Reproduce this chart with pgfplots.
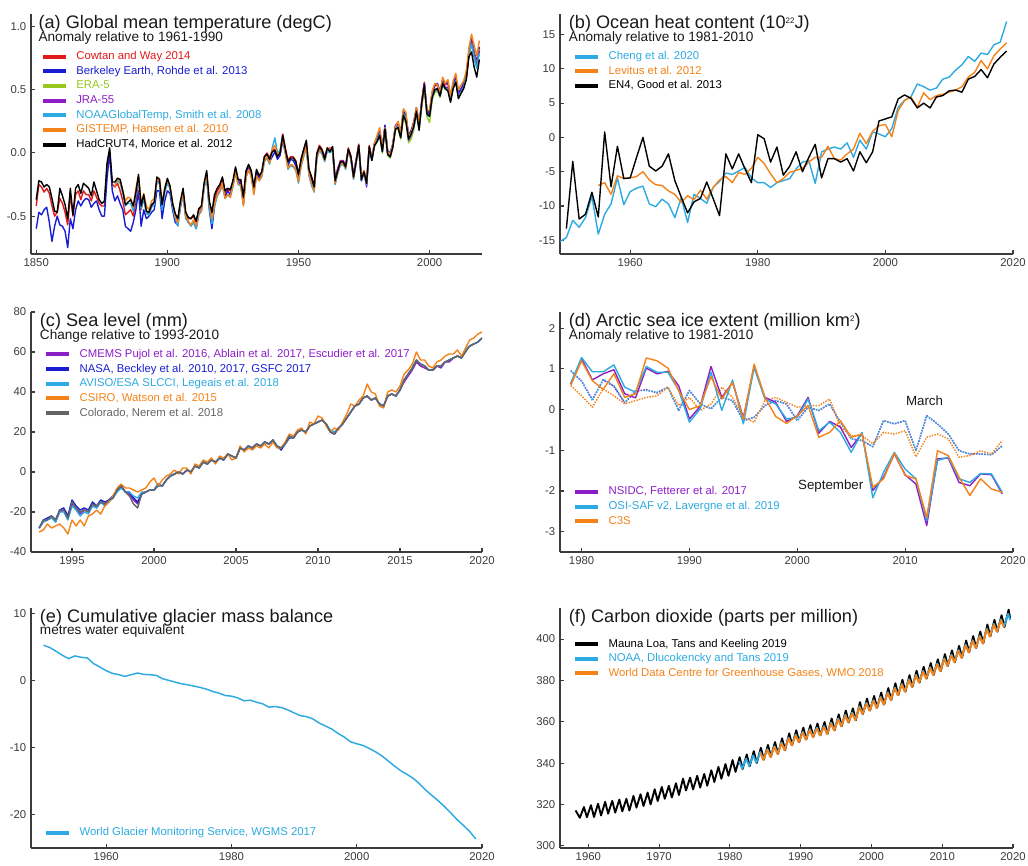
\documentclass[border=0pt]{standalone}
\usepackage{pgfplots}
\usepackage{pgfplotstable}
\pgfplotsset{compat=1.18}
\usepackage{fontspec}
\setmainfont{Liberation Sans}

\definecolor{cwred}{RGB}{225,25,25}
\definecolor{bkblue}{RGB}{25,30,210}
\definecolor{eragreen}{RGB}{150,200,30}
\definecolor{jrapurple}{RGB}{140,30,200}
\definecolor{cyanb}{RGB}{45,170,225}
\definecolor{orng}{RGB}{245,130,25}
\definecolor{greyc}{RGB}{100,100,100}
\definecolor{axgrey}{RGB}{60,60,60}

\newcommand{\tinysup}[1]{{\fontsize{6}{6}\selectfont\raisebox{1.15ex}{#1}}}

% global temperature, anomaly vs 1961-1990
\pgfplotstableread{
year had cw be gis noaa jra era
1850 -0.37 -0.42 -0.60 nan nan nan nan
1851 -0.22 -0.25 -0.47 nan nan nan nan
1852 -0.23 -0.27 -0.49 nan nan nan nan
1853 -0.27 -0.31 -0.45 nan nan nan nan
1854 -0.25 -0.28 -0.43 nan nan nan nan
1855 -0.27 -0.32 -0.55 nan nan nan nan
1856 -0.36 -0.42 -0.70 nan nan nan nan
1857 -0.46 -0.50 -0.58 nan nan nan nan
1858 -0.47 -0.47 -0.50 nan nan nan nan
1859 -0.28 -0.36 -0.57 nan nan nan nan
1860 -0.34 -0.40 -0.58 nan nan nan nan
1861 -0.41 -0.47 -0.62 nan nan nan nan
1862 -0.52 -0.57 -0.75 nan nan nan nan
1863 -0.28 -0.33 -0.52 nan nan nan nan
1864 -0.49 -0.50 -0.60 nan nan nan nan
1865 -0.28 -0.33 -0.45 nan nan nan nan
1866 -0.25 -0.30 -0.38 nan nan nan nan
1867 -0.32 -0.37 -0.42 nan nan nan nan
1868 -0.24 -0.30 -0.38 nan nan nan nan
1869 -0.26 -0.33 -0.36 nan nan nan nan
1870 -0.28 -0.33 -0.37 nan nan nan nan
1871 -0.34 -0.38 -0.43 nan nan nan nan
1872 -0.23 -0.30 -0.40 nan nan nan nan
1873 -0.30 -0.35 -0.38 nan nan nan nan
1874 -0.37 -0.40 -0.45 nan nan nan nan
1875 -0.40 -0.42 -0.50 nan nan nan nan
1876 -0.38 -0.42 -0.50 nan nan nan nan
1877 -0.08 -0.10 -0.20 nan nan nan nan
1878 0.04 0.02 0.00 nan nan nan nan
1879 -0.23 -0.25 -0.30 nan nan nan nan
1880 -0.23 -0.27 -0.38 -0.27 -0.25 nan nan
1881 -0.20 -0.24 -0.34 -0.20 -0.22 nan nan
1882 -0.21 -0.30 -0.40 -0.22 -0.24 nan nan
1883 -0.30 -0.38 -0.45 -0.30 -0.32 nan nan
1884 -0.41 -0.49 -0.58 -0.38 -0.42 nan nan
1885 -0.39 -0.47 -0.60 -0.35 -0.40 nan nan
1886 -0.37 -0.45 -0.62 -0.36 -0.40 nan nan
1887 -0.42 -0.50 -0.55 -0.43 -0.46 nan nan
1888 -0.31 -0.38 -0.45 -0.28 -0.33 nan nan
1889 -0.17 -0.20 -0.30 -0.18 -0.20 nan nan
1890 -0.42 -0.45 -0.58 -0.40 -0.44 nan nan
1891 -0.33 -0.36 -0.45 -0.32 -0.36 nan nan
1892 -0.46 -0.47 -0.52 -0.42 -0.48 nan nan
1893 -0.47 -0.48 -0.50 -0.45 -0.49 nan nan
1894 -0.41 -0.42 -0.47 -0.38 -0.43 nan nan
1895 -0.39 -0.40 -0.45 -0.36 -0.41 nan nan
1896 -0.19 -0.22 -0.30 -0.22 -0.23 nan nan
1897 -0.21 -0.23 -0.30 -0.20 -0.24 nan nan
1898 -0.41 -0.42 -0.52 -0.40 -0.45 nan nan
1899 -0.29 -0.30 -0.38 -0.27 -0.31 nan nan
1900 -0.20 -0.22 -0.30 -0.21 -0.24 nan nan
1901 -0.26 -0.27 -0.32 -0.27 -0.28 nan nan
1902 -0.40 -0.40 -0.45 -0.39 -0.43 nan nan
1903 -0.48 -0.49 -0.55 -0.50 -0.52 nan nan
1904 -0.52 -0.53 -0.57 -0.55 -0.58 nan nan
1905 -0.38 -0.39 -0.43 -0.40 -0.42 nan nan
1906 -0.28 -0.30 -0.33 -0.32 -0.33 nan nan
1907 -0.47 -0.47 -0.50 -0.50 -0.52 nan nan
1908 -0.51 -0.52 -0.55 -0.54 -0.55 nan nan
1909 -0.52 -0.52 -0.57 -0.57 -0.58 nan nan
1910 -0.49 -0.50 -0.55 -0.53 -0.55 nan nan
1911 -0.54 -0.55 -0.60 -0.58 -0.60 nan nan
1912 -0.44 -0.45 -0.48 -0.47 -0.49 nan nan
1913 -0.42 -0.43 -0.45 -0.46 -0.46 nan nan
1914 -0.24 -0.25 -0.27 -0.26 -0.28 nan nan
1915 -0.14 -0.16 -0.18 -0.17 -0.19 nan nan
1916 -0.38 -0.40 -0.45 -0.40 -0.44 nan nan
1917 -0.47 -0.50 -0.60 -0.52 -0.56 nan nan
1918 -0.33 -0.37 -0.42 -0.40 -0.42 nan nan
1919 -0.28 -0.30 -0.33 -0.33 -0.34 nan nan
1920 -0.25 -0.27 -0.30 -0.30 -0.31 nan nan
1921 -0.19 -0.20 -0.25 -0.24 -0.25 nan nan
1922 -0.30 -0.32 -0.35 -0.36 -0.36 nan nan
1923 -0.28 -0.29 -0.30 -0.33 -0.33 nan nan
1924 -0.29 -0.30 -0.33 -0.35 -0.35 nan nan
1925 -0.22 -0.23 -0.25 -0.26 -0.27 nan nan
1926 -0.11 -0.12 -0.14 -0.15 -0.16 nan nan
1927 -0.21 -0.22 -0.22 -0.25 -0.25 nan nan
1928 -0.21 -0.22 -0.25 -0.25 -0.26 nan nan
1929 -0.35 -0.36 -0.40 -0.42 -0.41 nan nan
1930 -0.14 -0.15 -0.17 -0.19 -0.19 nan nan
1931 -0.09 -0.10 -0.12 -0.13 -0.14 nan nan
1932 -0.14 -0.15 -0.17 -0.19 -0.18 nan nan
1933 -0.27 -0.28 -0.30 -0.33 -0.32 nan nan
1934 -0.13 -0.14 -0.16 -0.18 -0.18 nan nan
1935 -0.18 -0.19 -0.20 -0.22 -0.22 nan nan
1936 -0.15 -0.15 -0.18 -0.18 -0.19 nan nan
1937 -0.03 -0.03 -0.05 -0.06 -0.07 nan nan
1938 -0.01 0.00 -0.04 -0.03 -0.04 nan nan
1939 -0.05 -0.04 -0.07 -0.08 -0.09 nan nan
1940 0.01 0.02 -0.03 0.03 0.04 nan nan
1941 0.02 0.03 0.01 0.06 0.12 nan nan
1942 -0.03 -0.02 -0.05 -0.01 0.00 nan nan
1943 0.00 0.01 -0.02 0.00 0.02 nan nan
1944 0.14 0.15 0.10 0.12 0.13 nan nan
1945 0.03 0.04 0.00 0.00 0.01 nan nan
1946 -0.07 -0.06 -0.10 -0.12 -0.13 nan nan
1947 -0.04 -0.03 -0.05 -0.09 -0.10 nan nan
1948 -0.04 -0.03 -0.06 -0.10 -0.11 nan nan
1949 -0.07 -0.06 -0.10 -0.13 -0.14 nan nan
1950 -0.17 -0.17 -0.20 -0.23 -0.24 nan nan
1951 -0.05 -0.05 -0.08 -0.10 -0.11 nan nan
1952 0.03 0.02 -0.01 -0.02 -0.03 nan nan
1953 0.10 0.09 0.05 0.05 0.04 nan nan
1954 -0.13 -0.13 -0.15 -0.17 -0.18 nan nan
1955 -0.19 -0.19 -0.22 -0.24 -0.26 nan nan
1956 -0.27 -0.26 -0.28 -0.30 -0.31 nan nan
1957 -0.01 0.00 -0.02 -0.04 -0.05 nan nan
1958 0.05 0.06 0.03 0.04 0.02 0.03 nan
1959 0.02 0.03 0.00 0.00 -0.01 0.01 nan
1960 -0.05 -0.04 -0.06 -0.06 -0.07 -0.02 nan
1961 0.04 0.04 0.02 0.04 0.02 0.02 nan
1962 0.01 0.02 0.01 0.03 0.00 0.04 nan
1963 0.05 0.05 0.03 0.04 0.02 0.02 nan
1964 -0.22 -0.21 -0.24 -0.24 -0.25 -0.20 nan
1965 -0.14 -0.13 -0.15 -0.15 -0.16 -0.12 nan
1966 -0.07 -0.06 -0.08 -0.09 -0.10 -0.07 nan
1967 -0.07 -0.06 -0.07 -0.08 -0.09 -0.06 nan
1968 -0.11 -0.10 -0.12 -0.12 -0.13 -0.10 nan
1969 0.03 0.04 0.02 0.02 0.01 0.02 nan
1970 -0.03 -0.02 -0.04 -0.04 -0.05 -0.04 nan
1971 -0.19 -0.18 -0.20 -0.20 -0.21 -0.17 nan
1972 -0.07 -0.06 -0.07 -0.06 -0.08 -0.05 nan
1973 0.06 0.07 0.05 0.06 0.04 0.06 nan
1974 -0.21 -0.20 -0.22 -0.21 -0.22 -0.22 nan
1975 -0.15 -0.14 -0.15 -0.14 -0.16 -0.15 nan
1976 -0.24 -0.23 -0.25 -0.24 -0.25 -0.27 nan
1977 0.05 0.06 0.04 0.05 0.04 0.05 nan
1978 -0.06 -0.05 -0.05 -0.04 -0.06 -0.04 nan
1979 0.06 0.07 0.08 0.08 0.06 0.06 0.05
1980 0.09 0.11 0.12 0.14 0.10 0.10 0.09
1981 0.14 0.16 0.18 0.20 0.15 0.14 0.13
1982 0.01 0.03 0.04 0.03 0.01 0.02 0.00
1983 0.19 0.21 0.22 0.20 0.19 0.20 0.18
1984 -0.01 0.01 0.02 0.01 0.00 0.00 -0.02
1985 -0.03 -0.01 0.00 -0.01 -0.02 -0.03 -0.04
1986 0.05 0.07 0.07 0.07 0.06 0.05 0.04
1987 0.19 0.21 0.22 0.21 0.20 0.21 0.18
1988 0.20 0.23 0.24 0.25 0.21 0.22 0.19
1989 0.12 0.14 0.16 0.16 0.13 0.13 0.11
1990 0.30 0.32 0.33 0.35 0.31 0.29 0.27
1991 0.25 0.28 0.30 0.32 0.27 0.26 0.24
1992 0.11 0.13 0.14 0.13 0.11 0.10 0.08
1993 0.15 0.17 0.18 0.16 0.14 0.14 0.11
1994 0.21 0.23 0.25 0.24 0.21 0.21 0.19
1995 0.33 0.35 0.36 0.36 0.33 0.33 0.31
1996 0.18 0.21 0.23 0.24 0.19 0.20 0.18
1997 0.39 0.41 0.40 0.38 0.39 0.38 0.36
1998 0.54 0.56 0.55 0.52 0.53 0.55 0.53
1999 0.31 0.33 0.32 0.34 0.30 0.33 0.29
2000 0.29 0.31 0.33 0.34 0.29 0.30 0.24
2001 0.44 0.47 0.48 0.49 0.44 0.45 0.42
2002 0.50 0.53 0.54 0.55 0.49 0.50 0.48
2003 0.51 0.54 0.55 0.54 0.50 0.51 0.49
2004 0.45 0.48 0.49 0.48 0.45 0.46 0.44
2005 0.55 0.57 0.58 0.60 0.54 0.55 0.54
2006 0.51 0.54 0.55 0.55 0.51 0.52 0.50
2007 0.49 0.55 0.56 0.58 0.50 0.52 0.51
2008 0.40 0.43 0.45 0.45 0.41 0.42 0.41
2009 0.51 0.54 0.55 0.57 0.52 0.53 0.51
2010 0.56 0.59 0.60 0.63 0.57 0.58 0.57
2011 0.43 0.46 0.47 0.50 0.44 0.45 0.44
2012 0.47 0.50 0.51 0.54 0.48 0.49 0.48
2013 0.51 0.54 0.55 0.57 0.52 0.53 0.52
2014 0.58 0.61 0.62 0.65 0.60 0.59 0.59
2015 0.76 0.79 0.80 0.83 0.78 0.77 0.77
2016 0.80 0.90 0.91 0.94 0.86 0.88 0.88
2017 0.68 0.79 0.80 0.85 0.75 0.77 0.78
2018 0.60 0.71 0.72 0.77 0.67 0.69 0.70
2019 0.74 0.83 0.84 0.89 0.79 0.81 0.82
}\tempdata

% ocean heat content, 1e22 J
\pgfplotstableread{
year cheng lev en4
1949 -15.2 nan nan
1950 -14.6 nan -13.3
1951 -12.1 nan -3.5
1952 -13.1 nan -11.9
1953 -11.7 nan -11.2
1954 -8.6 nan -8.0
1955 -14.1 -7.0 -11.6
1956 -11.2 -6.6 0.8
1957 -9.7 -8.3 -7.2
1958 -5.9 -5.6 -1.3
1959 -9.8 -6.0 -6.0
1960 -7.9 -5.9 -5.9
1961 -7.4 -5.7 -2.9
1962 -7.1 -5.0 0.0
1963 -9.7 -6.2 -4.2
1964 -10.1 -6.9 -4.9
1965 -9.0 -7.0 -4.2
1966 -9.7 -7.8 -2.4
1967 -11.7 -8.3 -6.3
1968 -8.8 -9.5 -8.7
1969 -12.4 -8.5 -11.0
1970 -8.3 -9.1 -9.4
1971 -8.9 -7.7 -8.9
1972 -9.6 -9.0 -6.5
1973 -7.3 -7.3 -8.9
1974 -6.4 -6.2 -11.4
1975 -5.2 -5.7 -2.4
1976 -5.4 -6.6 -4.6
1977 -4.9 -5.1 -2.4
1978 -4.4 -5.4 -4.6
1979 -5.9 -4.5 -6.6
1980 -6.6 -2.9 0.4
1981 -6.6 -3.8 -0.2
1982 -7.3 -5.3 -3.6
1983 -6.6 -6.6 -1.4
1984 -6.3 -6.0 -5.5
1985 -6.0 -5.1 -4.2
1986 -4.6 -4.8 -2.1
1987 -3.6 -4.5 -5.0
1988 -3.4 -3.6 -2.9
1989 -6.7 -2.9 -1.0
1990 -2.1 -2.9 -5.9
1991 -1.7 -1.3 -3.1
1992 -1.4 -3.1 -3.1
1993 -1.7 -3.3 -3.6
1994 -0.8 -2.4 -3.1
1995 -2.9 -1.7 -4.9
1996 -0.4 0.6 -2.1
1997 -1.7 -0.9 -3.7
1998 0.8 0.9 -2.1
1999 0.5 1.7 2.4
2000 0.1 1.9 2.7
2001 1.3 0.1 3.0
2002 4.4 3.9 5.6
2003 5.4 5.4 6.2
2004 5.9 5.9 5.7
2005 7.8 4.4 4.3
2006 7.4 6.5 5.0
2007 6.9 5.5 4.3
2008 7.2 6.1 5.9
2009 8.5 6.3 6.1
2010 8.8 6.6 6.8
2011 9.8 6.9 6.9
2012 10.6 7.4 6.6
2013 11.8 8.8 8.5
2014 11.1 9.5 8.9
2015 12.3 11.2 9.9
2016 12.1 10.0 8.7
2017 13.5 11.9 10.7
2018 13.9 12.9 11.7
2019 16.9 13.8 12.6
}\ohcdata

% sea level, mm
\pgfplotstableread{
t cmems nasa aviso csiro colo
1993.00 -28 -28 -28 -30 -28
1993.25 -25 -24 -25 -29 -24
1993.50 -24 -23 -24 -26 -24
1993.75 -22 -22 -23 -28 -22
1994.00 -25 -24 -25 -27 -24
1994.25 -20 -19 -20 -26 -19
1994.50 -19 -18 -20 -28 -19
1994.75 -23 -22 -24 -31 -23
1995.00 -16 -14 -17 -24 -15
1995.25 -18 -17 -19 -27 -18
1995.50 -21 -19 -22 -24 -20
1995.75 -19 -18 -20 -27 -19
1996.00 -20 -19 -21 -22 -20
1996.25 -16 -15 -17 -21 -16
1996.50 -18 -17 -18 -19 -17
1996.75 -15 -14 -15 -21 -15
1997.00 -16 -15 -17 -17 -16
1997.25 -14 -14 -15 -15 -14
1997.50 -13 -12 -13 -12 -13
1997.75 -9 -9 -10 -8 -9
1998.00 -7 -7 -8 -6 -7
1998.25 -10 -10 -10 -8 -10
1998.50 -11 -10 -10 -8 -12
1998.75 -14 -13 -12 -9 -16
1999.00 -16 -15 -13 -10 -18
1999.25 -11 -11 -10 -9 -11
1999.50 -10 -10 -10 -8 -10
1999.75 -9 -9 -9 -5 -9
2000.00 -9 -9 -9 -3 -9
2000.25 -6 -6 -6 -7 -7
2000.50 -7 -7 -7 -4 -7
2000.75 -4 -4 -4 -2 -4
2001.00 -2 -2 -2 -1 -2
2001.25 -1 -1 -1 1 -1
2001.50 0 0 0 -1 0
2001.75 -1 -1 -1 2 -1
2002.00 1 1 1 2 1
2002.25 0 0 0 -1 0
2002.50 3 3 3 4 3
2002.75 2 2 2 3 2
2003.00 5 5 5 6 5
2003.25 4 4 4 5 4
2003.50 6 6 6 7 6
2003.75 5 5 5 4 5
2004.00 7 7 7 8 7
2004.25 6 6 6 7 6
2004.50 9 9 9 9 9
2004.75 8 8 8 6 8
2005.00 7 7 7 7 7
2005.25 12 12 12 13 12
2005.50 11 11 11 10 11
2005.75 13 13 13 12 13
2006.00 12 12 12 11 12
2006.25 14 14 14 13 14
2006.50 13 13 13 12 13
2006.75 15 15 15 14 15
2007.00 14 14 14 12 14
2007.25 16 16 16 15 16
2007.50 13 13 13 12 13
2007.75 12 11 12 12 12
2008.00 14 14 14 15 14
2008.25 18 17 18 19 18
2008.50 17 17 17 18 17
2008.75 20 20 20 21 20
2009.00 21 21 21 22 21
2009.25 20 20 20 19 20
2009.50 23 23 23 25 23
2009.75 24 24 24 24 24
2010.00 25 25 25 28 25
2010.25 26 26 26 27 26
2010.50 24 24 24 23 24
2010.75 20 20 21 20 20
2011.00 19 19 20 22 19
2011.25 22 22 22 21 22
2011.50 24 24 24 25 24
2011.75 27 27 27 29 27
2012.00 30 30 30 34 30
2012.25 33 33 33 33 33
2012.50 34 34 34 36 34
2012.75 37 37 37 38 37
2013.00 38 38 38 44 38
2013.25 36 36 36 40 36
2013.50 37 37 37 39 37
2013.75 34 34 34 33 34
2014.00 33 33 33 32 33
2014.25 38 38 38 40 38
2014.50 39 39 39 41 39
2014.75 38 38 38 40 38
2015.00 41 41 41 43 41
2015.25 45 46 46 49 46
2015.50 48 49 49 51 49
2015.75 51 52 52 54 52
2016.00 55 56 56 60 56
2016.25 53 54 54 56 54
2016.50 52 53 53 56 53
2016.75 51 51 51 53 51
2017.00 51 51 51 52 51
2017.25 53 53 53 55 53
2017.50 52 53 53 56 53
2017.75 55 55 55 58 55
2018.00 55 56 56 59 56
2018.25 57 57 57 59 57
2018.50 58 58 58 61 58
2018.75 57 57 57 58 57
2019.00 nan 61 61 62 60
2019.25 nan 63 63 66 63
2019.50 nan 64 64 67 64
2019.75 nan 65 65 69 65
2020.00 nan 67 67 70 67
}\sealevel

% arctic sea ice, september (S) and march (M)
\pgfplotstableread{
year nsS osS c3S nsM osM c3M
1979 0.63 0.65 0.60 0.95 0.96 0.59
1980 1.25 1.28 1.20 0.70 0.71 0.34
1981 0.73 0.93 0.71 0.25 0.22 0.06
1982 0.88 0.93 0.50 0.73 0.75 0.51
1983 0.98 1.10 0.88 0.57 0.59 0.34
1984 0.39 0.55 0.30 0.16 0.18 0.14
1985 0.29 0.43 0.39 0.45 0.47 0.22
1986 1.02 1.06 1.27 0.49 0.47 0.30
1987 0.88 0.92 1.20 0.41 0.43 0.34
1988 0.94 0.92 1.02 0.55 0.55 0.55
1989 0.59 0.48 0.47 -0.02 -0.02 0.10
1990 -0.23 -0.31 0.00 0.47 0.47 0.30
1991 0.08 0.02 0.10 0.14 0.14 -0.02
1992 1.06 0.92 0.81 0.02 0.02 0.14
1993 0.30 -0.02 0.26 0.30 0.30 0.55
1994 0.67 0.73 0.67 0.22 0.22 0.30
1995 -0.20 -0.35 -0.23 -0.27 -0.27 -0.19
1996 1.06 1.04 1.12 -0.19 -0.19 -0.31
1997 0.30 0.26 0.30 0.10 0.10 0.22
1998 0.18 0.14 -0.17 0.22 0.22 0.30
1999 -0.29 -0.23 -0.34 0.14 0.14 0.18
2000 -0.15 -0.19 -0.15 -0.27 -0.27 0.06
2001 0.30 0.26 0.10 0.06 0.06 0.10
2002 -0.58 -0.52 -0.68 -0.02 -0.02 0.10
2003 -0.29 -0.31 -0.56 0.14 0.14 0.26
2004 -0.43 -0.56 -0.27 -0.31 -0.31 -0.43
2005 -0.93 -1.05 -0.68 -0.72 -0.72 -0.64
2006 -0.58 -0.56 -0.60 -0.76 -0.76 -0.64
2007 -1.99 -2.17 -1.91 -0.91 -0.91 -0.84
2008 -1.66 -1.54 -1.70 -0.27 -0.27 -0.56
2009 -1.09 -1.05 -1.07 -0.35 -0.35 -0.60
2010 -1.60 -1.46 -1.62 -0.27 -0.27 -0.52
2011 -1.83 -1.70 -1.70 -1.01 -1.01 -1.16
2012 -2.85 -2.73 -2.65 -0.15 -0.15 -0.68
2013 -1.21 -1.25 -1.01 -0.35 -0.35 -0.60
2014 -1.19 -1.17 -1.13 -0.60 -0.60 -0.72
2015 -1.79 -1.70 -1.66 -1.01 -1.01 -1.17
2016 -1.87 -1.79 -2.11 -1.09 -1.09 -1.13
2017 -1.58 -1.57 -1.70 -1.09 -1.09 -1.01
2018 -1.60 -1.58 -1.95 -1.11 -1.11 -1.09
2019 -2.07 -2.03 -2.03 -0.89 -0.89 -0.76
}\seaice

% glacier mass balance, m w.e.
\pgfplotstableread{
year mb
1950 5.25
1951 4.90
1952 4.35
1953 3.75
1954 3.25
1955 3.65
1956 3.45
1957 3.35
1958 2.50
1959 2.00
1960 1.45
1961 1.05
1962 0.85
1963 0.60
1964 0.85
1965 1.10
1966 0.90
1967 0.85
1968 0.75
1969 0.25
1970 0.00
1971 -0.25
1972 -0.50
1973 -0.65
1974 -0.85
1975 -1.05
1976 -1.30
1977 -1.65
1978 -1.90
1979 -2.25
1980 -2.35
1981 -2.60
1982 -3.05
1983 -2.95
1984 -3.25
1985 -3.50
1986 -4.00
1987 -3.90
1988 -4.05
1989 -4.40
1990 -4.85
1991 -5.25
1992 -5.40
1993 -5.75
1994 -6.35
1995 -6.80
1996 -7.25
1997 -7.90
1998 -8.45
1999 -9.15
2000 -9.45
2001 -9.70
2002 -10.15
2003 -10.65
2004 -11.25
2005 -12.00
2006 -12.75
2007 -13.45
2008 -14.00
2009 -14.60
2010 -15.40
2011 -16.35
2012 -17.15
2013 -17.95
2014 -18.80
2015 -19.75
2016 -20.75
2017 -21.60
2018 -22.50
2019 -23.65
}\glacier

% CO2, peak and trough of each year
\pgfplotstableread{
t y
1958.20 317.2
1958.80 313.6
1959.38 318.8
1959.80 313.9
1960.38 319.7
1960.80 314.0
1961.38 320.4
1961.80 314.7
1962.38 321.3
1962.80 315.6
1963.38 321.8
1963.80 316.1
1964.38 322.4
1964.80 316.7
1965.38 322.8
1965.80 317.1
1966.38 324.2
1966.80 318.5
1967.38 325.0
1967.80 319.3
1968.38 325.8
1968.80 320.1
1969.38 327.4
1969.80 321.7
1970.38 328.5
1970.80 322.8
1971.38 329.1
1971.80 323.4
1972.38 330.3
1972.80 324.6
1973.38 332.5
1973.80 326.8
1974.38 333.0
1974.80 327.3
1975.38 333.9
1975.80 328.2
1976.38 334.8
1976.80 329.1
1977.38 336.6
1977.80 330.9
1978.38 338.2
1978.80 332.5
1979.38 339.6
1979.80 333.9
1980.38 341.5
1980.80 335.8
1981.38 342.9
1981.80 337.2
1982.38 344.2
1982.80 338.5
1983.38 345.8
1983.80 340.1
1984.38 347.4
1984.80 341.7
1985.38 348.8
1985.80 343.1
1986.38 350.2
1986.80 344.5
1987.38 352.0
1987.80 346.3
1988.38 354.4
1988.80 348.7
1989.38 355.9
1989.80 350.2
1990.38 357.2
1990.80 351.5
1991.38 358.4
1991.80 352.7
1992.38 359.2
1992.80 353.5
1993.38 359.9
1993.80 354.2
1994.38 361.6
1994.80 355.9
1995.38 363.6
1995.80 357.9
1996.38 365.4
1996.80 359.7
1997.38 366.5
1997.80 360.8
1998.38 369.5
1998.80 363.8
1999.38 371.2
1999.80 365.5
2000.38 372.5
2000.80 366.8
2001.38 374.1
2001.80 368.4
2002.38 376.3
2002.80 370.6
2003.38 378.6
2003.80 372.9
2004.38 380.3
2004.80 374.6
2005.38 382.6
2005.80 376.9
2006.38 384.7
2006.80 379.0
2007.38 386.6
2007.80 380.9
2008.38 388.4
2008.80 382.7
2009.38 390.2
2009.80 384.5
2010.38 392.7
2010.80 387.0
2011.38 394.5
2011.80 388.8
2012.38 396.7
2012.80 391.0
2013.38 399.3
2013.80 393.6
2014.38 401.4
2014.80 395.7
2015.38 403.6
2015.80 397.9
2016.38 407.0
2016.80 401.3
2017.38 409.3
2017.80 403.6
2018.38 411.5
2018.80 405.8
2019.38 414.2
2019.60 410.0
}\mlo

\pgfplotstableread{
t y
1981.30 340.9
1981.72 337.3
1982.30 342.2
1982.72 338.6
1983.30 343.8
1983.72 340.2
1984.30 345.4
1984.72 341.8
1985.30 346.8
1985.72 343.2
1986.30 348.2
1986.72 344.6
1987.30 350.0
1987.72 346.4
1988.30 352.4
1988.72 348.8
1989.30 353.9
1989.72 350.3
1990.30 355.2
1990.72 351.6
1991.30 356.4
1991.72 352.8
1992.30 357.2
1992.72 353.6
1993.30 357.9
1993.72 354.3
1994.30 359.6
1994.72 356.0
1995.30 361.6
1995.72 358.0
1996.30 363.4
1996.72 359.8
1997.30 364.5
1997.72 360.9
1998.30 367.5
1998.72 363.9
1999.30 369.2
1999.72 365.6
2000.30 370.5
2000.72 366.9
2001.30 372.1
2001.72 368.5
2002.30 374.3
2002.72 370.7
2003.30 376.6
2003.72 373.0
2004.30 378.3
2004.72 374.7
2005.30 380.6
2005.72 377.0
2006.30 382.7
2006.72 379.1
2007.30 384.6
2007.72 381.0
2008.30 386.4
2008.72 382.8
2009.30 388.2
2009.72 384.6
2010.30 390.7
2010.72 387.1
2011.30 392.5
2011.72 388.9
2012.30 394.7
2012.72 391.1
2013.30 397.3
2013.72 393.7
2014.30 399.4
2014.72 395.8
2015.30 401.6
2015.72 398.0
2016.30 405.0
2016.72 401.4
2017.30 407.3
2017.72 403.7
2018.30 409.5
2018.72 405.9
2019.30 412.2
2019.60 409.2
}\noaaco

\pgfplotstableread{
t y
1984.30 345.0
1984.72 341.6
1985.30 346.4
1985.72 343.0
1986.30 347.8
1986.72 344.4
1987.30 349.6
1987.72 346.2
1988.30 352.0
1988.72 348.6
1989.30 353.5
1989.72 350.1
1990.30 354.8
1990.72 351.4
1991.30 356.0
1991.72 352.6
1992.30 356.8
1992.72 353.4
1993.30 357.5
1993.72 354.1
1994.30 359.2
1994.72 355.8
1995.30 361.2
1995.72 357.8
1996.30 363.0
1996.72 359.6
1997.30 364.1
1997.72 360.7
1998.30 367.1
1998.72 363.7
1999.30 368.8
1999.72 365.4
2000.30 370.1
2000.72 366.7
2001.30 371.7
2001.72 368.3
2002.30 373.9
2002.72 370.5
2003.30 376.2
2003.72 372.8
2004.30 377.9
2004.72 374.5
2005.30 380.2
2005.72 376.8
2006.30 382.3
2006.72 378.9
2007.30 384.2
2007.72 380.8
2008.30 386.0
2008.72 382.6
2009.30 387.8
2009.72 384.4
2010.30 390.3
2010.72 386.9
2011.30 392.1
2011.72 388.7
2012.30 394.3
2012.72 390.9
2013.30 396.9
2013.72 393.5
2014.30 399.0
2014.72 395.6
2015.30 401.2
2015.72 397.8
2016.30 404.6
2016.72 401.2
2017.30 406.9
2017.72 403.5
2018.30 409.1
2018.72 405.7
}\wmoco

\pgfplotsset{
  panel/.style={
    scale only axis, height=180pt,
    anchor=south west,
    axis x line*=bottom, axis y line*=left,
    axis line style={-, line width=1pt, axgrey},
    tick align=inside, major tick length=3pt,
    tick style={axgrey, line width=0.8pt},
    ticklabel style={font=\fontsize{8.5}{9.5}\selectfont, text=axgrey},
    /pgf/number format/assume math mode=true,
    /pgf/number format/1000 sep={},
    every axis plot/.append style={line width=1.05pt, line join=round},
    legend cell align=left,
    legend image code/.code={\draw[##1, line width=3pt, solid] (0pt,0pt) -- (17pt,0pt);},
    legend style={draw=none, fill=none, inner sep=0pt, outer sep=0pt,
      font=\fontsize{8.5}{10}\selectfont, at={(0,1)}, anchor=north west,
      row sep=2.3pt, nodes={inner sep=0pt, text height=6.5pt, text depth=2.2pt},
      /tikz/every odd column/.append style={column sep=6.5pt}},
  },
}
\tikzset{
  ttl/.style={anchor=west, inner sep=0pt, font=\fontsize{13.6}{15}\selectfont, text=black!90},
  sub/.style={anchor=west, inner sep=0pt, font=\fontsize{10.2}{12}\selectfont, text=black!90},
}

\begin{document}
\begin{tikzpicture}
\useasboundingbox (0pt,0pt) rectangle (771pt,648.75pt);

% (a)
\begin{axis}[panel, at={(23.25pt,458.25pt)}, width=338.25pt,
  xmin=1848, xmax=2020, ymin=-0.8, ymax=1.1,
  xtick={1850,1900,1950,2000}, ytick={-0.5,0,0.5,1},
  yticklabel style={/pgf/number format/.cd, fixed, fixed zerofill, precision=1},
  legend style={xshift=7.5pt, yshift=-27.75pt}]
\addplot[cwred] table[x=year,y=cw]{\tempdata};
\addlegendentry{\textcolor{cwred}{Cowtan and Way 2014}}
\addplot[bkblue] table[x=year,y=be]{\tempdata};
\addlegendentry{\textcolor{bkblue}{Berkeley Earth, Rohde et al. 2013}}
\addplot[eragreen] table[x=year,y=era]{\tempdata};
\addlegendentry{\textcolor{eragreen}{ERA-5}}
\addplot[jrapurple] table[x=year,y=jra]{\tempdata};
\addlegendentry{\textcolor{jrapurple}{JRA-55}}
\addplot[cyanb] table[x=year,y=noaa]{\tempdata};
\addlegendentry{\textcolor{cyanb}{NOAAGlobalTemp, Smith et al. 2008}}
\addplot[orng] table[x=year,y=gis]{\tempdata};
\addlegendentry{\textcolor{orng}{GISTEMP, Hansen et al. 2010}}
\addplot[black] table[x=year,y=had]{\tempdata};
\addlegendentry{HadCRUT4, Morice et al. 2012}
\node[ttl, xshift=5.5pt, yshift=-7pt] at (rel axis cs:0,1) {(a) Global mean temperature (degC)};
\node[sub, xshift=5.5pt, yshift=-18pt] at (rel axis cs:0,1) {Anomaly relative to 1961-1990};
\end{axis}

% (b)
\begin{axis}[panel, at={(420pt,458.25pt)}, width=339.75pt,
  xmin=1949, xmax=2020, ymin=-17, ymax=18,
  xtick={1960,1980,2000,2020}, ytick={-15,-10,-5,0,5,10,15},
  legend style={xshift=10pt, yshift=-27.75pt}]
\addplot[cyanb] table[x=year,y=cheng]{\ohcdata};
\addlegendentry{\textcolor{cyanb}{Cheng et al. 2020}}
\addplot[orng] table[x=year,y=lev]{\ohcdata};
\addlegendentry{\textcolor{orng}{Levitus et al. 2012}}
\addplot[black] table[x=year,y=en4]{\ohcdata};
\addlegendentry{EN4, Good et al. 2013}
\node[ttl, xshift=6.5pt, yshift=-7pt] at (rel axis cs:0,1) {(b) Ocean heat content (10\tinysup{22}J)};
\node[sub, xshift=6.5pt, yshift=-18pt] at (rel axis cs:0,1) {Anomaly relative to 1981-2010};
\end{axis}

% (c)
\begin{axis}[panel, at={(23.25pt,234.75pt)}, width=338.25pt,
  xmin=1992.5, xmax=2020, ymin=-40, ymax=80,
  xtick={1995,2000,2005,2010,2015,2020}, ytick={-40,-20,0,20,40,60,80},
  legend style={xshift=10pt, yshift=-27.5pt}]
\addplot[jrapurple] table[x=t,y=cmems]{\sealevel};
\addlegendentry{\textcolor{jrapurple}{CMEMS Pujol et al. 2016, Ablain et al. 2017, Escudier et al. 2017}}
\addplot[bkblue] table[x=t,y=nasa]{\sealevel};
\addlegendentry{\textcolor{bkblue}{NASA, Beckley et al. 2010, 2017, GSFC 2017}}
\addplot[cyanb] table[x=t,y=aviso]{\sealevel};
\addlegendentry{\textcolor{cyanb}{AVISO/ESA SLCCI, Legeais et al. 2018}}
\addplot[orng] table[x=t,y=csiro]{\sealevel};
\addlegendentry{\textcolor{orng}{CSIRO, Watson et al. 2015}}
\addplot[greyc] table[x=t,y=colo]{\sealevel};
\addlegendentry{\textcolor{greyc}{Colorado, Nerem et al. 2018}}
\node[ttl, xshift=6.5pt, yshift=-7pt] at (rel axis cs:0,1) {(c) Sea level (mm)};
\node[sub, xshift=6.5pt, yshift=-18pt] at (rel axis cs:0,1) {Change relative to 1993-2010};
\end{axis}

% (d)
\begin{axis}[panel, at={(420pt,234.75pt)}, width=339.75pt,
  xmin=1978, xmax=2020, ymin=-3.5, ymax=2.4,
  xtick={1980,1990,2000,2010,2020}, ytick={-3,-2,-1,0,1,2},
  legend style={at={(0,0)}, anchor=south west, xshift=10pt, yshift=18.75pt}]
\addplot[jrapurple, densely dotted, line width=1.1pt, forget plot] table[x=year,y=nsM]{\seaice};
\addplot[cyanb, densely dotted, line width=1.1pt, forget plot] table[x=year,y=osM]{\seaice};
\addplot[orng, densely dotted, line width=1.1pt, forget plot] table[x=year,y=c3M]{\seaice};
\addplot[jrapurple] table[x=year,y=nsS]{\seaice};
\addlegendentry{\textcolor{jrapurple}{NSIDC, Fetterer et al. 2017}}
\addplot[cyanb] table[x=year,y=osS]{\seaice};
\addlegendentry{\textcolor{cyanb}{OSI-SAF v2, Lavergne et al. 2019}}
\addplot[orng] table[x=year,y=c3S]{\seaice};
\addlegendentry{\textcolor{orng}{C3S}}
\node[ttl, xshift=6.5pt, yshift=-7pt] at (rel axis cs:0,1) {(d) Arctic sea ice extent (million km\tinysup{2})};
\node[sub, xshift=6.5pt, yshift=-18pt] at (rel axis cs:0,1) {Anomaly relative to 1981-2010};
\node[font=\fontsize{10}{12}\selectfont, text=black!90] at (axis cs:2011.8,0.22) {March};
\node[font=\fontsize{10}{12}\selectfont, text=black!90] at (axis cs:2003.1,-1.89) {September};
\end{axis}

% (e)
\begin{axis}[panel, at={(23.25pt,12.75pt)}, width=338.25pt,
  xmin=1948, xmax=2020, ymin=-25, ymax=10.8,
  xtick={1960,1980,2000,2020}, ytick={-20,-10,0,10},
  legend style={at={(0,0)}, anchor=south west, xshift=10pt, yshift=7pt}]
\addplot[cyanb, line width=1.1pt] table[x=year,y=mb]{\glacier};
\addlegendentry{\textcolor{cyanb}{World Glacier Monitoring Service, WGMS 2017}}
\node[ttl, xshift=6.5pt, yshift=-7pt] at (rel axis cs:0,1) {(e) Cumulative glacier mass balance};
\node[sub, xshift=6.5pt, yshift=-17.5pt] at (rel axis cs:0,1) {metres water equivalent};
\end{axis}

% (f)
\begin{axis}[panel, at={(420pt,12.75pt)}, width=339.75pt,
  xmin=1956, xmax=2020, ymin=299, ymax=415,
  xtick={1960,1970,1980,1990,2000,2010,2020}, ytick={300,320,340,360,380,400},
  legend style={xshift=10pt, yshift=-22.75pt}]
\addplot[black, line width=1.4pt] table[x=t,y=y]{\mlo};
\addlegendentry{Mauna Loa, Tans and Keeling 2019}
\addplot[cyanb, line width=1.4pt] table[x=t,y=y]{\noaaco};
\addlegendentry{\textcolor{cyanb}{NOAA, Dlucokencky and Tans 2019}}
\addplot[orng, line width=1.4pt] table[x=t,y=y]{\wmoco};
\addlegendentry{\textcolor{orng}{World Data Centre for Greenhouse Gases, WMO 2018}}
\node[ttl, xshift=6.5pt, yshift=-7pt] at (rel axis cs:0,1) {(f) Carbon dioxide (parts per million)};
\end{axis}
\end{tikzpicture}
\end{document}
